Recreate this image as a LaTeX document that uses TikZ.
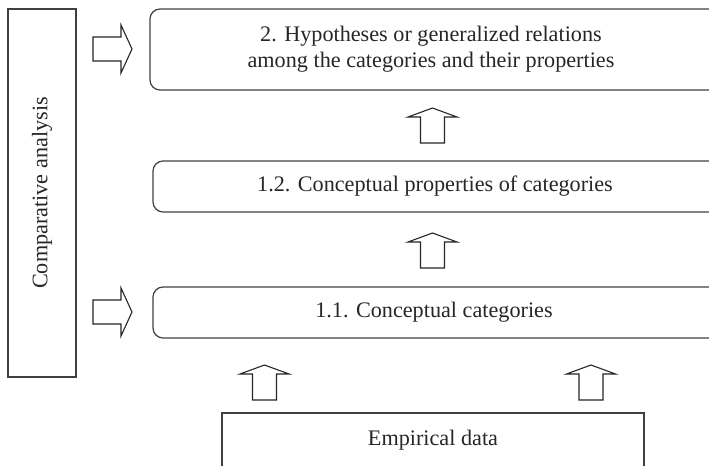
\documentclass[tikz,border=0pt]{standalone}
\usepackage{fontspec}
\setmainfont{Liberation Serif}
\begin{document}
\begin{tikzpicture}[x=0.5pt,y=-0.5pt,
  line join=miter,
  box/.style={draw=black!75,line width=0.6pt},
  rbox/.style={box,rounded corners=5pt},
  txt/.style={font=\fontsize{11.1}{12.8}\selectfont,align=center,inner sep=0pt,text=black!85},
  blockarrow/.style={draw=black!85,line width=0.55pt,fill=white}]
\useasboundingbox (0,0) rectangle (709,466);
% side box
\draw[box] (8,9) rectangle (76,377);
\node[txt,rotate=90] (cmp) at (42,193) {Comparative analysis};
% boxes
\draw[rbox] (150,9) rectangle (760,90);
\node[txt] (b2) at (431,49) {2. Hypotheses or generalized relations\\among the categories and their properties};
\draw[rbox] (153,161) rectangle (760,212);
\node[txt] (b12) at (435,186.5) {1.2. Conceptual properties of categories};
\draw[rbox] (153,287) rectangle (760,338);
\node[txt] (b11) at (434,312.5) {1.1. Conceptual categories};
\draw[box] (222,480) -- (222,413) -- (644,413) -- (644,480);
\node[txt] (emp) at (433,440) {Empirical data};
% right block arrows
\coordinate (ra1) at (93,49);
\coordinate (ra2) at (93,312);
\foreach \c in {ra1,ra2}{
  \draw[blockarrow] (\c) ++(0,-12) -- ++(28,0) -- ++(0,-12) -- ++(11,24) -- ++(-11,24) -- ++(0,-12) -- ++(-28,0) -- cycle;
}
% up block arrows (coordinate = bottom centre)
\coordinate (ua1) at (432.5,143);
\coordinate (ua2) at (432.5,268);
\coordinate (ua3) at (264.5,400);
\coordinate (ua4) at (591,400);
\foreach \c in {ua1,ua2,ua3,ua4}{
  \draw[blockarrow] (\c) ++(-12,0) -- ++(0,-26) -- ++(-12.5,0) -- ++(24.5,-9) -- ++(24.5,9) -- ++(-12.5,0) -- ++(0,26) -- cycle;
}
\end{tikzpicture}
\end{document}
